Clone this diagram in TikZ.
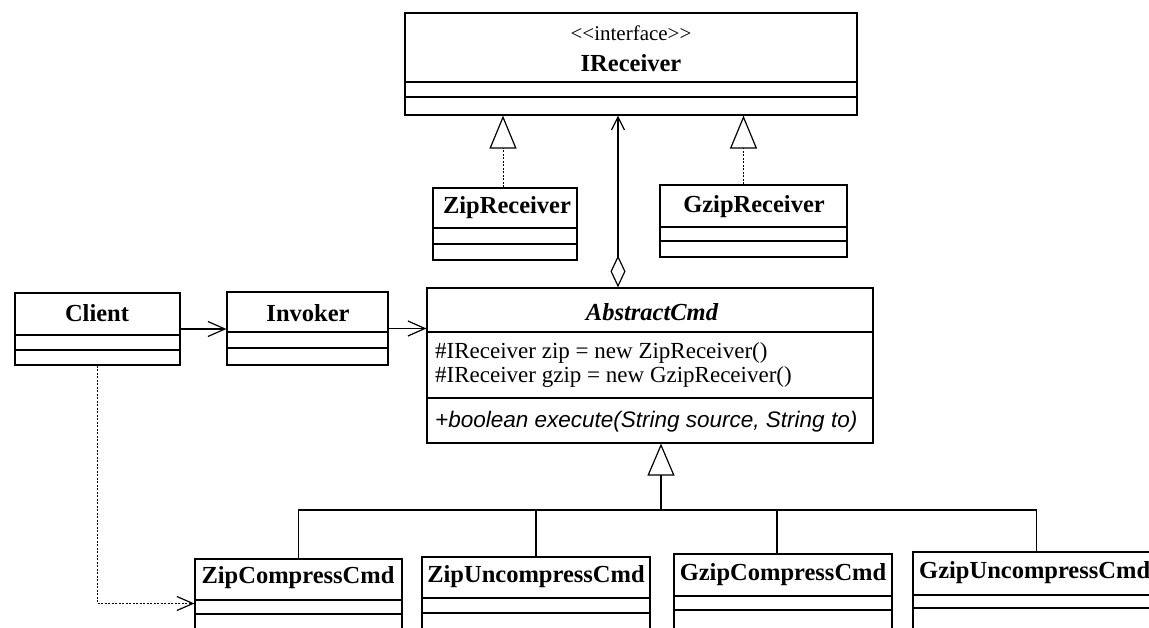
\documentclass[tikz,border=0pt]{standalone}
\usepackage{fontspec}
\setmainfont{Liberation Serif}
\newfontfamily\methfont{Liberation Sans}
\usetikzlibrary{arrows.meta,fit,calc}
\newcommand\umlbox[7]{%
  \node[box, fit={(#2,#3) (#4,#5)}] (#1) {};
  \draw[sep] (#2,#6) -- (#4,#6) (#2,#7) -- (#4,#7);}
\begin{document}
\begin{tikzpicture}[x=1pt,y=-1pt,
  box/.style={draw, line width=1.2pt, inner sep=0pt},
  sep/.style={line width=1.2pt},
  ttl/.style={font=\bfseries\fontsize{24.5}{26}\selectfont, inner sep=0pt},
  stereo/.style={font=\fontsize{21}{23}\selectfont, inner sep=0pt},
  attr/.style={font=\fontsize{23}{24}\selectfont, inner sep=0pt, anchor=west},
  meth/.style={font=\methfont\itshape\fontsize{22.5}{24}\selectfont, inner sep=0pt, anchor=west},
  conn/.style={line width=1.1pt},
  dep/.style={line width=0.8pt, dash pattern=on 2pt off 1.5pt},
  realize/.style={dep, -{Triangle[open,length=33pt,width=27pt,line width=1.2pt]}},
  inherit/.style={conn, -{Triangle[open,length=32pt,width=27pt,line width=1.2pt]}},
  nav/.style={conn, -{Straight Barb[length=17pt,width=15pt,line width=1.2pt]}},
  depnav/.style={dep, -{Straight Barb[length=16pt,width=14pt,line width=1.2pt]}},
  aggr/.style={conn, {Diamond[open,length=32pt,width=15pt,line width=1.2pt]}-{Straight Barb[length=13pt,width=13pt,line width=1.2pt]}}
]
\useasboundingbox (0,0) rectangle (1149,628);
\clip (0,0) rectangle (1149,628);

% classes
\umlbox{ir}{405}{13}{857}{115}{82}{97}
\node[stereo] (irs) at (631,33) {\textless\kern0pt\textless\kern0pt interface\kern0pt\textgreater\kern0pt\textgreater};
\node[ttl] (irt) at (631,63) {IReceiver};

\umlbox{zr}{433}{188}{577}{260}{228}{244}
\node[ttl] (zrt) at (507,208) {ZipReceiver};

\umlbox{gr}{660}{185}{847}{257}{227}{241}
\node[ttl] (grt) at (754,207) {GzipReceiver};

\umlbox{cl}{15}{293}{180}{365}{335}{350}
\node[ttl] (clt) at (97,313) {Client};

\umlbox{iv}{227}{292}{388}{365}{332}{348}
\node[ttl] (ivt) at (308,313) {Invoker};

\umlbox{ac}{427}{288}{873}{443}{332}{398}
\node[ttl, font=\bfseries\itshape\fontsize{24.5}{26}\selectfont] (act) at (652,312) {AbstractCmd};
\node[attr] (aca1) at (435,353) {\#IReceiver zip = new ZipReceiver()};
\node[attr] (aca2) at (435,377) {\#IReceiver gzip = new GzipReceiver()};
\node[meth] (acm) at (435,422) {+boolean execute(String source, String to)};

\umlbox{zc}{195}{559}{402}{648}{600}{614}
\node[ttl] (zct) at (298,578) {ZipCompressCmd};

\umlbox{zu}{422}{557}{650}{648}{598}{613}
\node[ttl] (zut) at (536,577) {ZipUncompressCmd};

\umlbox{gc}{674}{554}{892}{648}{596}{610}
\node[ttl] (gct) at (783,575) {GzipCompressCmd};

\umlbox{gu}{913}{552}{1160}{648}{595}{608}
\node[ttl, anchor=west] (gut) at (919,573) {GzipUncompressCmd};

% realization
\draw[realize] ([xshift=-2pt]zr.north) -- ([xshift=-2pt]zr.north |- ir.south);
\draw[realize] ([xshift=-10pt]gr.north) -- ([xshift=-10pt]gr.north |- ir.south);

% aggregation
\draw[aggr] ([xshift=-32pt]ac.north) -- ([xshift=-32pt]ac.north |- ir.south);

% navigation
\draw[nav] (cl.east) -- (cl.east -| iv.west);
\draw[nav] (iv.east) -- (iv.east -| ac.west);

% client dependency
\draw[depnav] (cl.south) |- (zc.west);

% inheritance
\coordinate (bus) at (661,510);
\draw[inherit] (bus) -- (bus |- ac.south);
\draw[conn] (zc.north) |- (bus) -| (gu.north);
\draw[conn] (zu.north) -- (zu.north |- bus);
\draw[conn] ([xshift=-6pt]gc.north) -- ([xshift=-6pt]gc.north |- bus);
\end{tikzpicture}
\end{document}
